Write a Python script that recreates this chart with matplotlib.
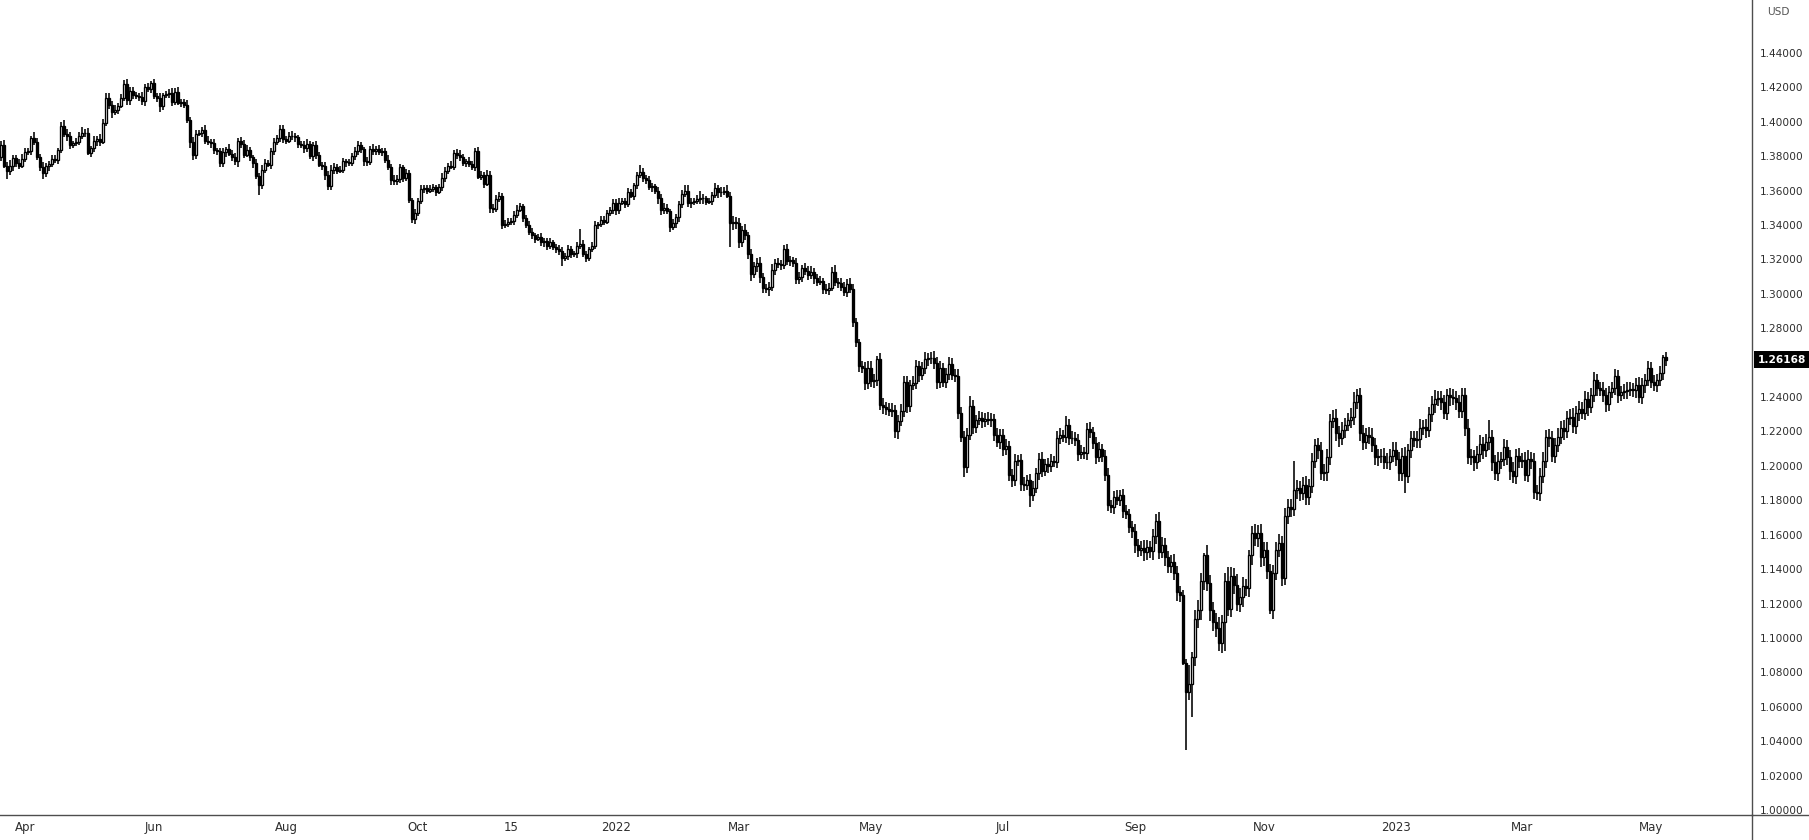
import numpy as np
import pandas as pd
import matplotlib
matplotlib.use('Agg')
import matplotlib.pyplot as plt
import matplotlib.transforms as mtransforms
from matplotlib.lines import Line2D

# daily GBP/USD candles, first bar on 22 Mar 2021, one bar per weekday
FIRST_DAY = '2021-03-22'
FIRST_OPEN = 1.3795

closes = [
    # Mar 2021
    1.3865, 1.3745, 1.3717, 1.3745, 1.3790, 1.3760, 1.3745, 1.3783,
    # Apr 2021
    1.3826, 1.3832, 1.3908, 1.3883, 1.3795, 1.3740, 1.3700, 1.3742, 1.3755, 1.3785, 1.3780,
    1.3835, 1.3978, 1.3932, 1.3920, 1.3865, 1.3875, 1.3885, 1.3917, 1.3937, 1.3935, 1.3820,
    # May 2021
    1.3845, 1.3890, 1.3900, 1.3885, 1.3995, 1.4140, 1.4100, 1.4060, 1.4070, 1.4093, 1.4140,
    1.4218, 1.4125, 1.4180, 1.4155, 1.4150, 1.4145, 1.4120, 1.4200, 1.4190, 1.4225,
    # Jun 2021
    1.4150, 1.4140, 1.4090, 1.4155, 1.4160, 1.4165, 1.4115, 1.4175, 1.4110, 1.4115, 1.4100,
    1.4010, 1.3880, 1.3805, 1.3930, 1.3935, 1.3955, 1.3890, 1.3880, 1.3875, 1.3835, 1.3830,
    # Jul 2021
    1.3760, 1.3825, 1.3840, 1.3815, 1.3795, 1.3770, 1.3890, 1.3870, 1.3810, 1.3835, 1.3795,
    1.3760, 1.3685, 1.3635, 1.3720, 1.3760, 1.3750, 1.3830, 1.3880, 1.3905, 1.3960, 1.3900,
    # Aug 2021
    1.3890, 1.3920, 1.3915, 1.3910, 1.3870, 1.3865, 1.3845, 1.3870, 1.3800, 1.3865, 1.3805,
    1.3750, 1.3745, 1.3690, 1.3625, 1.3720, 1.3740, 1.3715, 1.3720, 1.3770, 1.3765, 1.3760,
    # Sep 2021
    1.3800, 1.3830, 1.3865, 1.3840, 1.3770, 1.3765, 1.3840, 1.3830, 1.3840, 1.3825, 1.3830,
    1.3780, 1.3735, 1.3660, 1.3655, 1.3665, 1.3735, 1.3675, 1.3700, 1.3545, 1.3435, 1.3470,
    # Oct 2021
    1.3540, 1.3610, 1.3615, 1.3600, 1.3610, 1.3620, 1.3595, 1.3620, 1.3675, 1.3715, 1.3745,
    1.3740, 1.3820, 1.3810, 1.3795, 1.3760, 1.3770, 1.3755, 1.3735, 1.3830, 1.3680,
    # Nov 2021
    1.3690, 1.3640, 1.3690, 1.3500, 1.3495, 1.3550, 1.3570, 1.3400, 1.3405, 1.3420, 1.3425,
    1.3460, 1.3490, 1.3510, 1.3440, 1.3400, 1.3360, 1.3340, 1.3320, 1.3330, 1.3300, 1.3305,
    # Dec 2021
    1.3280, 1.3300, 1.3270, 1.3260, 1.3250, 1.3210, 1.3220, 1.3260, 1.3230, 1.3235, 1.3280,
    1.3290, 1.3230, 1.3210, 1.3260, 1.3280, 1.3400, 1.3405, 1.3430, 1.3420, 1.3470, 1.3490,
    1.3530,
    # Jan 2022
    1.3485, 1.3530, 1.3540, 1.3525, 1.3590, 1.3570, 1.3630, 1.3690, 1.3710, 1.3675, 1.3660,
    1.3620, 1.3625, 1.3600, 1.3555, 1.3485, 1.3500, 1.3480, 1.3390, 1.3410, 1.3445,
    # Feb 2022
    1.3520, 1.3580, 1.3600, 1.3530, 1.3535, 1.3540, 1.3550, 1.3560, 1.3555, 1.3535, 1.3540,
    1.3575, 1.3615, 1.3590, 1.3595, 1.3600, 1.3570, 1.3410, 1.3415, 1.3410,
    # Mar 2022
    1.3300, 1.3370, 1.3340, 1.3230, 1.3115, 1.3160, 1.3180, 1.3100, 1.3035, 1.3030, 1.3040,
    1.3140, 1.3180, 1.3175, 1.3170, 1.3260, 1.3190, 1.3195, 1.3180, 1.3085, 1.3100, 1.3150,
    1.3135,
    # Apr 2022
    1.3110, 1.3130, 1.3090, 1.3070, 1.3075, 1.3030, 1.3025, 1.3035, 1.3130, 1.3070, 1.3065,
    1.3040, 1.3010, 1.3060, 1.3030, 1.2835, 1.2720, 1.2580, 1.2570, 1.2480, 1.2570,
    # May 2022
    1.2495, 1.2500, 1.2620, 1.2355, 1.2340, 1.2330, 1.2320, 1.2325, 1.2200, 1.2260, 1.2320,
    1.2490, 1.2350, 1.2470, 1.2480, 1.2580, 1.2530, 1.2570, 1.2620, 1.2625, 1.2630, 1.2600,
    # Jun 2022
    1.2485, 1.2570, 1.2490, 1.2535, 1.2595, 1.2530, 1.2525, 1.2310, 1.2170, 1.1995, 1.2180,
    1.2350, 1.2225, 1.2265, 1.2280, 1.2260, 1.2275, 1.2265, 1.2270, 1.2180, 1.2140, 1.2180,
    # Jul 2022
    1.2100, 1.2115, 1.1945, 1.1920, 1.2030, 1.2035, 1.1895, 1.1890, 1.1920, 1.1830, 1.1870,
    1.1960, 1.2040, 1.1970, 1.2010, 1.2000, 1.2030, 1.2025, 1.2165, 1.2180, 1.2170,
    # Aug 2022
    1.2240, 1.2160, 1.2165, 1.2150, 1.2070, 1.2080, 1.2075, 1.2215, 1.2195, 1.2135, 1.2050,
    1.2100, 1.2060, 1.1950, 1.1770, 1.1760, 1.1820, 1.1800, 1.1830, 1.1735, 1.1720, 1.1645,
    1.1620,
    # Sep 2022
    1.1540, 1.1510, 1.1520, 1.1500, 1.1530, 1.1505, 1.1590, 1.1680, 1.1500, 1.1540, 1.1470,
    1.1420, 1.1440, 1.1380, 1.1265, 1.1250, 1.0855, 1.0685, 1.0735, 1.0890, 1.1110, 1.1160,
    # Oct 2022
    1.1330, 1.1480, 1.1320, 1.1160, 1.1090, 1.1060, 1.0970, 1.1090, 1.1330, 1.1170, 1.1360,
    1.1310, 1.1200, 1.1240, 1.1300, 1.1290, 1.1480, 1.1610, 1.1580, 1.1610, 1.1470,
    # Nov 2022
    1.1510, 1.1390, 1.1160, 1.1380, 1.1510, 1.1550, 1.1350, 1.1710, 1.1760, 1.1750, 1.1860,
    1.1870, 1.1840, 1.1890, 1.1820, 1.1885, 1.2030, 1.2120, 1.2090, 1.1960, 1.1965, 1.2050,
    # Dec 2022
    1.2260, 1.2280, 1.2190, 1.2160, 1.2210, 1.2240, 1.2265, 1.2285, 1.2370, 1.2415, 1.2190,
    1.2140, 1.2180, 1.2170, 1.2120, 1.2050, 1.2055, 1.2060, 1.2025, 1.2020, 1.2060, 1.2095,
    # Jan 2023
    1.2040, 1.1960, 1.2060, 1.1940, 1.2090, 1.2160, 1.2150, 1.2155, 1.2220, 1.2225, 1.2210,
    1.2300, 1.2360, 1.2390, 1.2395, 1.2370, 1.2310, 1.2410, 1.2400, 1.2395, 1.2370, 1.2320,
    # Feb 2023
    1.2410, 1.2220, 1.2050, 1.2055, 1.2020, 1.2070, 1.2130, 1.2090, 1.2140, 1.2170, 1.2020,
    1.1960, 1.2030, 1.2040, 1.2110, 1.2050, 1.1970, 1.1940, 1.2060, 1.2030,
    # Mar 2023
    1.2035, 1.1950, 1.2040, 1.2030, 1.1850, 1.1840, 1.1940, 1.2030, 1.2170, 1.2160, 1.2060,
    1.2120, 1.2170, 1.2220, 1.2200, 1.2280, 1.2285, 1.2230, 1.2310, 1.2330, 1.2310, 1.2390,
    1.2340,
    # Apr 2023
    1.2410, 1.2500, 1.2450, 1.2440, 1.2410, 1.2360, 1.2430, 1.2450, 1.2520, 1.2410, 1.2430,
    1.2435, 1.2440, 1.2445, 1.2440, 1.2470, 1.2400, 1.2470, 1.2500, 1.2570,
    # May 2023
    1.2490, 1.2470, 1.2500, 1.2540, 1.2635, 1.26168,
]

# wick lengths in pips above / below the candle body
wick_up = [
    25, 30, 20, 35, 15, 20, 25, 30,
    20, 15, 10, 30, 25, 20, 25, 20, 15, 25, 20, 15, 20, 30, 25, 20, 15, 20, 25, 35, 20, 30,
    15, 25, 20, 30, 20, 25, 30, 20, 25, 15, 20, 25, 30, 20, 25, 20, 15, 30, 20, 25, 15,
    24, 20, 25, 15, 20, 25, 30, 20, 25, 15, 20, 25, 20, 30, 25, 20, 15, 25, 30, 20, 25, 15,
    20, 25, 15, 30, 20, 25, 15, 20, 25, 30, 20, 15, 25, 20, 30, 25, 20, 15, 25, 20, 23, 20,
    15, 20, 25, 20, 15, 20, 25, 30, 20, 15, 25, 20, 15, 20, 25, 30, 20, 15, 25, 20, 15, 20,
    20, 25, 26, 20, 15, 25, 20, 30, 20, 25, 20, 15, 25, 20, 30, 25, 20, 15, 25, 20, 15, 25,
    20, 25, 15, 20, 25, 20, 15, 20, 25, 20, 15, 25, 14, 20, 25, 20, 15, 25, 20, 15, 25,
    25, 20, 30, 25, 20, 25, 20, 15, 25, 20, 15, 20, 25, 20, 15, 20, 25, 20, 15, 20, 25, 20,
    20, 25, 15, 20, 25, 20, 15, 25, 20, 15, 20, 85, 25, 20, 15, 20, 25, 15, 20, 25, 20, 15, 20,
    20, 25, 15, 20, 25, 20, 15, 20, 40, 20, 15, 25, 20, 15, 20, 25, 30, 20, 15, 25, 20,
    20, 25, 30, 35, 20, 15, 25, 40, 20, 15, 20, 15, 29, 20, 25, 20, 30, 25, 35, 30,
    30, 25, 35, 20, 30, 25, 30, 35, 20, 25, 30, 35, 25, 30, 20, 25, 30, 25, 20, 30, 25, 20, 30,
    25, 30, 20, 25, 30, 20, 25, 30, 25, 35, 20, 25, 30, 25, 30, 30, 25, 20, 30, 35, 40,
    40, 35, 20, 35, 40, 30, 35, 40, 30, 35, 40, 30, 35, 30, 40, 35, 30, 35, 40, 30, 35, 40,
    35, 40, 30, 35, 40, 30, 35, 40, 30, 35, 40, 56, 35, 30, 40, 35, 30, 40, 35, 30, 40, 35,
    35, 40, 30, 35, 40, 30, 35, 40, 30, 35, 40, 30, 35, 40, 30, 35, 40, 30, 35, 40, 30,
    50, 35, 40, 30, 35, 40, 30, 35, 40, 30, 35, 40, 30, 35, 40, 30, 35, 40, 30, 35, 40, 30, 35,
    40, 35, 45, 50, 40, 35, 45, 40, 50, 45, 40, 35, 45, 50, 40, 35, 30, 25, 105, 26, 50, 60,
    50, 16, 60, 45, 50, 55, 60, 45, 50, 80, 50, 45, 60, 50, 55, 45, 30, 40, 55, 45, 50,
    45, 50, 40, 45, 50, 55, 40, 45, 50, 45, 169, 50, 40, 45, 50, 40, 45, 35, 40, 50, 45, 50,
    40, 45, 50, 40, 45, 40, 45, 50, 60, 31, 40, 45, 40, 45, 50, 40, 45, 40, 45, 50, 40, 45,
    45, 40, 45, 50, 40, 45, 40, 45, 50, 40, 45, 40, 45, 50, 40, 38, 45, 35, 40, 45, 40, 45,
    45, 40, 50, 45, 40, 45, 50, 40, 45, 99, 40, 45, 50, 40, 45, 40, 45, 50, 40, 45,
    40, 45, 50, 40, 45, 40, 45, 50, 40, 45, 40, 45, 50, 40, 45, 40, 45, 50, 40, 45, 40, 45, 40,
    40, 45, 35, 40, 45, 40, 35, 40, 45, 40, 35, 40, 45, 40, 35, 40, 45, 40, 35, 40,
    35, 40, 35, 40, 8, 30,
]
wick_dn = [
    20, 15, 47, 25, 30, 25, 20, 15,
    15, 20, 25, 20, 15, 25, 30, 20, 25, 15, 20, 25, 15, 20, 30, 25, 20, 15, 20, 15, 25, 15,
    25, 20, 30, 25, 15, 20, 25, 35, 20, 25, 15, 20, 30, 25, 20, 15, 25, 20, 30, 15, 20,
    15, 25, 30, 20, 15, 20, 25, 20, 15, 25, 20, 15, 30, 25, 20, 15, 25, 20, 15, 30, 20, 25,
    25, 20, 30, 15, 25, 20, 30, 25, 20, 15, 25, 30, 20, 63, 25, 20, 15, 25, 20, 15, 20, 25,
    20, 15, 20, 25, 20, 15, 25, 20, 15, 25, 20, 15, 25, 30, 22, 20, 25, 20, 15, 20, 25, 15,
    15, 20, 25, 20, 25, 20, 15, 25, 20, 15, 25, 20, 15, 30, 20, 25, 20, 25, 20, 15, 23, 30,
    15, 20, 25, 20, 15, 20, 25, 15, 20, 25, 20, 15, 20, 25, 20, 15, 25, 20, 15, 20, 15,
    20, 25, 15, 30, 25, 20, 15, 25, 20, 15, 20, 25, 20, 15, 25, 20, 15, 20, 25, 15, 20, 25,
    25, 20, 15, 20, 25, 49, 20, 25, 20, 15, 25, 20, 15, 25, 20, 15, 20, 25, 15, 20, 15, 20, 25,
    25, 20, 15, 25, 20, 15, 25, 20, 15, 25, 20, 15, 25, 20, 30, 25, 20, 15, 32, 20, 25,
    25, 20, 15, 25, 30, 20, 15, 25, 30, 20, 15, 25, 20, 30, 25, 20, 15, 138, 40, 35,
    35, 30, 25, 30, 40, 25, 30, 35, 30, 25, 40, 25, 30, 25, 30, 25, 20, 30, 25, 30, 25, 30, 25,
    30, 25, 30, 25, 20, 30, 25, 30, 20, 25, 30, 25, 20, 30, 25, 25, 30, 35, 30, 40, 35,
    35, 40, 35, 30, 40, 35, 30, 35, 40, 45, 30, 35, 40, 35, 30, 35, 40, 30, 35, 40, 30, 35,
    40, 35, 30, 40, 35, 30, 40, 35, 30, 61, 35, 30, 40, 35, 30, 40, 35, 30, 40, 35, 30, 40,
    40, 35, 30, 40, 35, 30, 40, 35, 30, 70, 35, 30, 40, 35, 30, 40, 35, 30, 40, 35, 30,
    35, 40, 30, 35, 40, 30, 35, 40, 30, 35, 40, 30, 35, 40, 30, 35, 40, 30, 35, 40, 30, 35, 40,
    45, 40, 35, 50, 45, 40, 50, 45, 40, 35, 50, 45, 40, 45, 50, 40, 15, 335, 45, 196, 55, 50,
    55, 50, 45, 60, 50, 55, 46, 60, 166, 45, 50, 55, 45, 50, 60, 45, 50, 55, 45, 50, 55,
    50, 45, 18, 50, 45, 40, 50, 45, 50, 45, 40, 50, 45, 40, 50, 45, 40, 45, 50, 40, 45, 50,
    45, 40, 45, 50, 40, 45, 40, 45, 50, 40, 45, 50, 40, 45, 40, 45, 50, 40, 45, 40, 45, 40,
    40, 45, 50, 99, 40, 45, 40, 45, 50, 40, 45, 40, 45, 50, 40, 45, 40, 45, 50, 40, 45, 40,
    40, 45, 40, 45, 50, 40, 45, 50, 40, 45, 50, 40, 45, 50, 40, 45, 50, 40, 45, 40,
    45, 40, 45, 50, 40, 37, 45, 40, 45, 50, 40, 45, 40, 45, 50, 40, 45, 40, 45, 50, 40, 45, 50,
    35, 40, 45, 35, 40, 45, 40, 35, 40, 45, 35, 40, 45, 35, 40, 45, 35, 40, 45, 35,
    40, 35, 40, 35, 40, 35,
]

tick_days = ['2021-04-01', '2021-06-01', '2021-08-02', '2021-10-01', '2021-11-15',
             '2022-01-03', '2022-03-01', '2022-05-02', '2022-07-01', '2022-09-01',
             '2022-11-01', '2023-01-02', '2023-03-01', '2023-05-01']
tick_labels = ['Apr', 'Jun', 'Aug', 'Oct', '15', '2022', 'Mar', 'May', 'Jul',
               'Sep', 'Nov', '2023', 'Mar', 'May']
# 1.26 is covered by the last-price tag on the scale
price_ticks = [1.00, 1.02, 1.04, 1.06, 1.08, 1.10, 1.12, 1.14, 1.16, 1.18, 1.20, 1.22,
               1.24, 1.28, 1.30, 1.32, 1.34, 1.36, 1.38, 1.40, 1.42, 1.44]

assert len(closes) == len(wick_up) == len(wick_dn), (len(closes), len(wick_up), len(wick_dn))

closes = np.array(closes)
opens = np.concatenate([[FIRST_OPEN], closes[:-1]])
highs = np.maximum(opens, closes) + np.array(wick_up) / 1e4
lows = np.minimum(opens, closes) - np.array(wick_dn) / 1e4
dates = pd.bdate_range(FIRST_DAY, periods=len(closes))
x = np.arange(len(closes))
rising = closes >= opens

W, H = 1809, 840
AX_RIGHT, AX_BOTTOM = 1752, 815
AXIS_COL = '#4d4d4d'
TEXT_COL = '#2e2e2e'

fig = plt.figure(figsize=(W / 100, H / 100), dpi=100, facecolor='white')
ax = fig.add_axes([0, (H - AX_BOTTOM) / H, AX_RIGHT / W, AX_BOTTOM / H])

ax.vlines(x, lows, highs, color='black', linewidth=1.15, zorder=1)
ax.bar(x[rising], closes[rising] - opens[rising], bottom=opens[rising], width=0.68,
       facecolor='white', edgecolor='black', linewidth=0.95, zorder=2)
ax.bar(x[~rising], opens[~rising] - closes[~rising], bottom=closes[~rising], width=0.68,
       facecolor='black', edgecolor='black', linewidth=0.95, zorder=2)

# 3 px per bar, first bar centred 1 px from the left edge
ax.set_xlim(-1 / 3, (AX_RIGHT - 1) / 3)
ax.set_ylim(0.99709, 1.47081)

for side in ['top', 'left']:
    ax.spines[side].set_visible(False)
for side in ['right', 'bottom']:
    ax.spines[side].set_color(AXIS_COL)
    ax.spines[side].set_linewidth(1.0)

ax.yaxis.tick_right()
ax.set_yticks(price_ticks)
ax.set_yticklabels([f'{v:.5f}' for v in price_ticks])
ax.tick_params(axis='y', length=0, pad=6, labelsize=7.6, labelcolor=TEXT_COL)

ax.set_xticks([dates.get_loc(pd.Timestamp(d)) for d in tick_days])
ax.set_xticklabels(tick_labels, family=['Liberation Sans Narrow', 'DejaVu Sans'])
ax.tick_params(axis='x', length=0, pad=4.5, labelsize=8.5, labelcolor=TEXT_COL)

# last price tag on the price scale
trans = mtransforms.blended_transform_factory(ax.transAxes, ax.transData)
ax.text(1.0 + 6 / AX_RIGHT, closes[-1], f'{closes[-1]:.5f}', transform=trans,
        ha='left', va='center', color='white', fontsize=7.6, fontweight='bold',
        bbox=dict(boxstyle='square,pad=0.35', facecolor='black', edgecolor='none'),
        clip_on=False)

fig.text(1767 / W, 1 - 12 / H, 'USD', fontsize=7.6, color='#555555', va='center')

# axis lines run on through the corner below the price scale
fig.add_artist(Line2D([AX_RIGHT / W, 1], [(H - AX_BOTTOM) / H] * 2,
                      transform=fig.transFigure, color=AXIS_COL, linewidth=1.0))
fig.add_artist(Line2D([AX_RIGHT / W] * 2, [0, (H - AX_BOTTOM) / H],
                      transform=fig.transFigure, color=AXIS_COL, linewidth=1.0))

plt.savefig('out.png', dpi=100, facecolor='white')
plt.close()
